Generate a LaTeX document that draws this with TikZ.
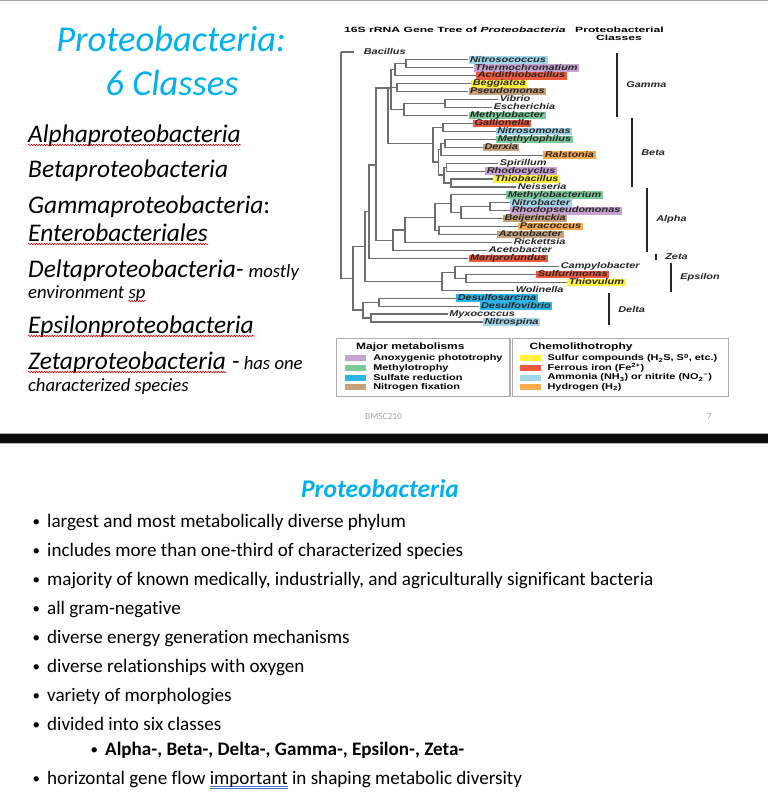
\documentclass[tikz,border=0pt]{standalone}
\usepackage{fontspec}
\setmainfont{Carlito}[Ligatures=NoCommon]
\newfontfamily\treefont[FakeStretch=1.3]{Liberation Sans}
\newfontfamily\hdrfont[FakeStretch=1.62]{Liberation Sans}
\usepackage{tikz}
\usetikzlibrary{positioning, decorations.pathmorphing}

\definecolor{slideblue}{HTML}{00B0F0}
\definecolor{cPurple}{HTML}{C8A2D0}
\definecolor{cGreen}{HTML}{7CC99A}
\definecolor{cBlue}{HTML}{2CB5E8}
\definecolor{cTan}{HTML}{C9A07E}
\definecolor{cYellow}{HTML}{FFF23A}
\definecolor{cRed}{HTML}{EE5A3E}
\definecolor{cLtBlue}{HTML}{A3D5EB}
\definecolor{cOrange}{HTML}{F9A94E}
\definecolor{ulblue}{HTML}{4472C4}
\definecolor{branchgray}{HTML}{6E6E6E}

\newcommand{\blueul}[1]{\setbox0=\hbox{#1}\rlap{\color{ulblue}\rule[-2.2pt]{\wd0}{0.45pt}}\rlap{\color{ulblue}\rule[-3.6pt]{\wd0}{0.45pt}}\box0}

\begin{document}
\begin{tikzpicture}[x=1pt, y=-1pt,
    branch/.style={draw=branchgray, line width=1.1pt},
    leaf/.style={anchor=west, inner xsep=1.6pt, inner ysep=0pt, text height=5.9pt, text depth=1.6pt, text=black!85, font=\treefont\bfseries\itshape\fontsize{8.4}{9}\selectfont},
    clsbar/.style={line width=2.6pt, draw=black!85},
    clslabel/.style={anchor=west, inner sep=0pt, text=black!85, font=\treefont\bfseries\itshape\fontsize{8.4}{9}\selectfont},
    hdr/.style={anchor=base west, inner sep=0pt, font=\hdrfont\bfseries\fontsize{7.5}{8}\selectfont},
    legframe/.style={draw=gray!65, line width=1.3pt},
    leghead/.style={anchor=west, inner sep=0pt, font=\treefont\bfseries\fontsize{9.2}{10}\selectfont},
    legtext/.style={anchor=west, inner sep=0pt, font=\treefont\bfseries\fontsize{8.4}{9}\selectfont},
    swatch/.style={anchor=west, minimum width=21pt, minimum height=6pt, inner sep=0pt},
    bigitem/.style={anchor=base west, inner sep=0pt, font=\itshape\fontsize{25.4}{28}\selectfont},
    smallitem/.style={anchor=base west, inner sep=0pt, font=\itshape\fontsize{18.7}{21}\selectfont},
    bullet/.style={anchor=base west, inner sep=0pt, font=\fontsize{19.1}{22}\selectfont},
    dotmark/.style={anchor=base west, inner sep=0pt, font=\fontsize{15}{18}\selectfont},
    wavy/.style={draw=red!85!black, line width=0.6pt, decorate, decoration={snake, amplitude=0.7pt, segment length=2.6pt}}]

    \fill[white] (0,0) rectangle (768,792);
    \useasboundingbox (0,0) rectangle (768,792);
    \draw[gray!70, line width=1pt] (0,0.5) -- (768,0.5);

    % left column of the slide
    \node[anchor=base, inner sep=0pt, text=slideblue, font=\itshape\fontsize{36.5}{40}\selectfont] (titleA) at (171,52) {Proteobacteria:};
    \node[anchor=base, inner sep=0pt, text=slideblue, font=\itshape\fontsize{36.5}{40}\selectfont] (titleB) at (172,95) {6 Classes};

    \node[bigitem] (alphaTxt) at (28,142) {Alphaproteobacteria};
    \node[bigitem] (betaTxt) at (28,177) {Betaproteobacteria};
    \node[bigitem] (gammaTxt) at (28,213) {Gammaproteobacteria\upshape:};
    \node[bigitem] (enteroTxt) at (28,241) {Enterobacteriales};
    \node[bigitem] (deltaTxt) at (28,277) {Deltaproteobacteria-};
    \node[smallitem, right=4.5pt of deltaTxt.base east, anchor=base west] (mostlyTxt) {mostly};
    \node[smallitem] (envTxt) at (28,298) {environment};
    \node[smallitem, right=4.2pt of envTxt.base east, anchor=base west] (spTxt) {sp};
    \node[bigitem] (epsTxt) at (28,333) {Epsilonproteobacteria};
    \node[bigitem] (zetaTxt) at (28,369) {Zetaproteobacteria};
    \node[smallitem, right=5.5pt of zetaTxt.base east, anchor=base west] (hasTxt) {{\fontsize{25.4}{28}\selectfont -}\ has one};
    \node[smallitem] (charTxt) at (28,391) {characterized species};

    \foreach \w in {alphaTxt, enteroTxt, spTxt, epsTxt, zetaTxt}
        \draw[wavy] ([yshift=-3pt]\w.base west) -- ([yshift=-3pt]\w.base east);

    % tree figure
    \node[hdr] (treeTitle) at (344,33) {16S rRNA Gene Tree of \textit{Proteobacteria}};
    \node[hdr] (clsTitle) at (575,33) {Proteobacterial};
    \node[hdr, anchor=base] (clsTitleB) at (619,40.5) {Classes};

    \foreach \nm/\lx/\col [count=\i from 0] in {Bacillus/362/none, Nitrosococcus/468.3/cLtBlue,
        Thermochromatium/473.3/cPurple, Acidithiobacillus/476/cRed, Beggiatoa/471/cYellow,
        Pseudomonas/468.3/cTan, Vibrio/498/none, Escherichia/492/none, Methylobacter/468.3/cGreen,
        Gallionella/472.7/cRed, Nitrosomonas/495.5/cLtBlue, Methylophilus/496/cGreen, Derxia/482.7/cTan,
        Ralstonia/543/cOrange, Spirillum/498/none, Rhodocyclus/485/cPurple, Thiobacillus/493/cYellow,
        Neisseria/516/none, Methylobacterium/506/cGreen, Nitrobacter/510/cLtBlue,
        Rhodopseudomonas/510/cPurple, Beijerinckia/502.7/cTan, Paracoccus/518/cOrange,
        Azotobacter/497/cTan, Rickettsia/512/none, Acetobacter/487/none, Mariprofundus/468.3/cRed,
        Campylobacter/559/none, Sulfurimonas/536/cRed, Thiovulum/567/cYellow, Wolinella/514/none,
        Desulfosarcina/456/cBlue, Desulfovibrio/479.3/cBlue, Myxococcus/447.5/none, Nitrospina/482.7/cLtBlue}
        \node[leaf, fill=\col] (\nm) at (\lx, 52+7.94*\i) {\nm};

    \coordinate (root) at (341,52);
    \coordinate (bacEnd) at (354,52);
    \coordinate (proteo) at (353,278.3);
    \coordinate (upper) at (365,246.5);
    \coordinate (mid) at (369,211.7);
    \coordinate (abg) at (376,165);
    \coordinate (gb) at (388,88);
    \coordinate (gamma) at (391,88);
    \coordinate (gNTA) at (395,69.9);
    \coordinate (gNT) at (406,63.9);
    \coordinate (gBP) at (397,87.7);
    \coordinate (gVEM) at (404,109.5);
    \coordinate (gVE) at (445,103.6);
    \coordinate (beta) at (433,143.3);
    \coordinate (bGN) at (443,127.4);
    \coordinate (bLow) at (438.7,162);
    \coordinate (bMDR) at (441,149.2);
    \coordinate (bMD) at (445,143.3);
    \coordinate (bSRTN) at (444,175);
    \coordinate (bSR) at (446.5,167.1);
    \coordinate (bTN) at (451,183);
    \coordinate (alpha) at (393,240.2);
    \coordinate (aR) at (405,230);
    \coordinate (aCore) at (435,217.3);
    \coordinate (aM) at (451,203.9);
    \coordinate (aNRB) at (461,212.8);
    \coordinate (aNR) at (490,206.9);
    \coordinate (aPA) at (439,230.7);
    \coordinate (eps) at (442,281.2);
    \coordinate (eCS) at (455,272.3);
    \coordinate (eST) at (466,278.3);
    \coordinate (delta) at (363,310);
    \coordinate (dDD) at (379,302.1);
    \coordinate (dMN) at (371,318);

    \foreach \p/\c in {root/bacEnd, root/proteo, proteo/upper, proteo/delta, upper/mid, upper/eps,
        mid/abg, mid/Mariprofundus.west, abg/gb, abg/alpha, gb/gamma, gb/beta,
        gamma/gNTA, gamma/gBP, gamma/gVEM, gNTA/gNT, gNTA/Acidithiobacillus.west,
        gNT/Nitrosococcus.west, gNT/Thermochromatium.west, gBP/Beggiatoa.west, gBP/Pseudomonas.west,
        gVEM/gVE, gVEM/Methylobacter.west, gVE/Vibrio.west, gVE/Escherichia.west,
        beta/bGN, beta/bLow, bGN/Gallionella.west, bGN/Nitrosomonas.west, bLow/bMDR, bLow/bSRTN,
        bMDR/bMD, bMDR/Ralstonia.west, bMD/Methylophilus.west, bMD/Derxia.west,
        bSRTN/bSR, bSRTN/bTN, bSR/Spirillum.west, bSR/Rhodocyclus.west, bTN/Thiobacillus.west, bTN/Neisseria.west,
        alpha/aR, alpha/Acetobacter.west, aR/aCore, aR/Rickettsia.west, aCore/aM, aCore/aPA,
        aM/Methylobacterium.west, aM/aNRB, aNRB/aNR, aNRB/Beijerinckia.west,
        aNR/Nitrobacter.west, aNR/Rhodopseudomonas.west, aPA/Paracoccus.west, aPA/Azotobacter.west,
        eps/eCS, eps/Wolinella.west, eCS/Campylobacter.west, eCS/eST, eST/Sulfurimonas.west, eST/Thiovulum.west,
        delta/dDD, delta/dMN, dDD/Desulfosarcina.west, dDD/Desulfovibrio.west, dMN/Myxococcus.west, dMN/Nitrospina.west}
        \draw[branch] (\p) |- (\c);

    % class bars
    \foreach \bx/\ya/\yb/\nm in {617/53/117/Gamma, 632/118/187/Beta, 647/188/251.5/Alpha,
        656/253.5/259.5/Zeta, 671/263/292/Epsilon, 609/293/325/Delta}
        \draw[clsbar] (\bx,\ya) -- (\bx,\yb) node[clslabel, midway, right=8pt] (cls\nm) {\nm};

    % legend
    \draw[legframe] (336.7,338.3) rectangle (510,396.7);
    \draw[legframe] (512.7,338.3) rectangle (728.3,396.7);
    \node[leghead] (majHead) at (356,346.7) {Major metabolisms};
    \node[leghead] (chemHead) at (529.3,346.7) {Chemolithotrophy};
    \foreach \txt/\col [count=\i from 0] in {Anoxygenic phototrophy/cPurple, Methylotrophy/cGreen,
        Sulfate reduction/cBlue, Nitrogen fixation/cTan} {
        \node[swatch, fill=\col] (majSw\i) at (345,358.3+9.67*\i) {};
        \node[legtext, right=6.7pt of majSw\i] (majTx\i) {\txt};
    }
    \foreach \txt/\col [count=\i from 0] in {{Sulfur compounds (H\textsubscript{2}S, S\textsuperscript{0}, etc.)}/cYellow,
        {Ferrous iron (Fe\textsuperscript{2+})}/cRed,
        {Ammonia (NH\textsubscript{3}) or nitrite (NO\textsubscript{2}\textsuperscript{−})}/cLtBlue,
        {Hydrogen (H\textsubscript{2})}/cOrange} {
        \node[swatch, fill=\col] (chemSw\i) at (519.3,358.3+9.67*\i) {};
        \node[legtext, right=6.7pt of chemSw\i] (chemTx\i) {\txt};
    }
    \node[anchor=west, inner sep=0pt, text=gray!70, font=\fontsize{9.4}{10}\selectfont] (slideCode) at (365,416) {BMSC210};
    \node[anchor=west, inner sep=0pt, text=gray!70, font=\fontsize{9.4}{10}\selectfont] (pageNum) at (706.7,416) {7};

    % slide separator
    \fill[black!95] (0,434) rectangle (768,443);
    \draw[gray!60, line width=0.8pt] (0,433.6) -- (768,433.6) (0,443.4) -- (768,443.4);

    % second slide
    \node[anchor=base, inner sep=0pt, text=slideblue, font=\bfseries\itshape\fontsize{25.5}{28}\selectfont] (botTitle) at (380,497) {Proteobacteria};
    \foreach \txt [count=\i from 0] in {largest and most metabolically diverse phylum,
        includes more than one-third of characterized species,
        {majority of known medically, industrially, and agriculturally significant bacteria},
        all gram-negative, diverse energy generation mechanisms, diverse relationships with oxygen,
        variety of morphologies, divided into six classes} {
        \node[dotmark] (dot\i) at (32.5,526+29*\i) {•};
        \node[bullet] (item\i) at (47,527.5+29*\i) {\txt};
    }
    \node[dotmark] (subDot) at (90.5,754) {•};
    \node[bullet, font=\bfseries\fontsize{19.1}{22}\selectfont] (subItem) at (105,755.5) {Alpha-, Beta-, Delta-, Gamma-, Epsilon-, Zeta-};
    \node[dotmark] (dotLast) at (32.5,783) {•};
    \node[bullet] (itemLast) at (47,784.5) {horizontal gene flow \blueul{important}\ in shaping metabolic diversity};
\end{tikzpicture}
\end{document}
